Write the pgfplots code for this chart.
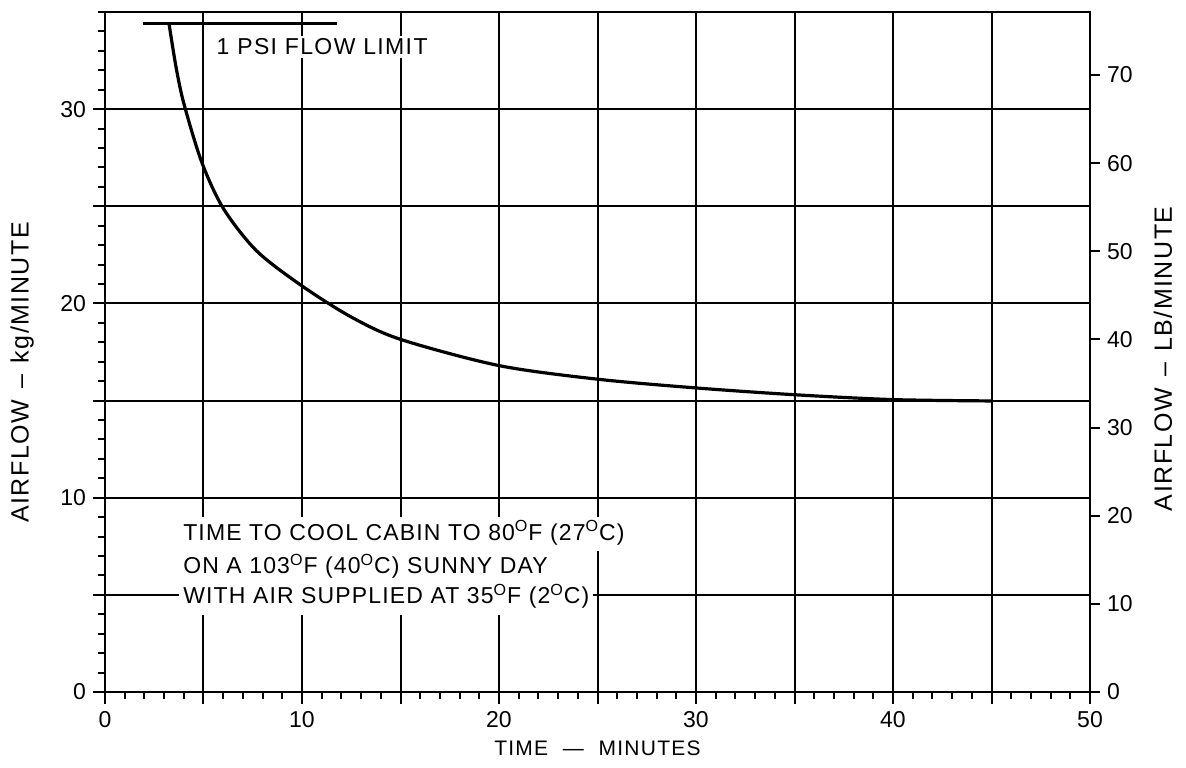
\documentclass[border=0pt]{standalone}
\usepackage{fontspec}
\setmainfont{Liberation Sans}
\newfontfamily\lsA[LetterSpace=6]{Liberation Sans}
\newfontfamily\lsB[LetterSpace=5]{Liberation Sans}
\usepackage{pgfplots}
\pgfplotsset{compat=1.18}

\begin{document}
\begin{tikzpicture}
\pgfplotsset{
  every axis/.append style={
    scale only axis, width=492.5pt, height=340pt,
    xmin=0, xmax=50,
    /pgf/number format/assume math mode=true,
    tick label style={font=\fontsize{11.5}{13}\selectfont},
    axis line style={line width=1.3pt},
    every tick/.style={black, line width=1pt},
    tick align=outside,
  }
}
\begin{axis}[
  ymin=0, ymax=35,
  xtick={0,5,...,50}, xticklabels={0,,10,,20,,30,,40,,50},
  ytick={0,5,...,30}, yticklabels={0,,10,,20,,30},
  minor xtick={0,1,...,50}, minor ytick={0,1,...,35},
  xtick pos=bottom, ytick pos=left,
  major tick length=6pt, minor tick length=3.5pt,
  grid=major, major grid style={black, line width=1pt},
  xlabel={\lsA\fontsize{10.5}{12}\selectfont TIME\hspace{0.7em}—\hspace{0.7em}MINUTES},
  xlabel style={at={(axis description cs:0.5,0)}, anchor=center, yshift=-28pt},
  ylabel={\lsA\fontsize{12.5}{14}\selectfont AIRFLOW\hspace{0.45em}–\hspace{0.45em}kg/MINUTE},
  ylabel style={at={(axis description cs:-0.084,0.47)}, anchor=center},
]
\addplot[black, line width=1.6pt, smooth] coordinates {
  (3.25,34.4) (3.6,32.2) (4.0,30.3) (4.9,27.3) (6.0,24.9) (7.7,22.7)
  (10,20.9) (12.5,19.3) (15,18.15) (20,16.8) (25,16.1) (30,15.65)
  (35,15.3) (40,15.05) (45,14.98)
};
\addplot[black, line width=1.4pt] coordinates {(1.93,34.4) (11.8,34.4)};
\node[fill=white, inner sep=1.5pt, anchor=west, font=\lsA\fontsize{11.5}{13}\selectfont]
  at (axis cs:5.5,33.2) {1 PSI FLOW LIMIT};
\begin{scope}[every node/.style={fill=white, anchor=west, inner xsep=2pt, inner ysep=3pt,
    text height=8.5pt, text depth=2.5pt, font=\lsB\fontsize{11.5}{13}\selectfont}]
\node at (axis cs:3.75,8.13) {TIME TO COOL CABIN TO 80\textsuperscript{O}F (27\textsuperscript{O}C)};
\node at (axis cs:3.75,6.39) {ON A 103\textsuperscript{O}F (40\textsuperscript{O}C) SUNNY DAY};
\node at (axis cs:3.75,4.85) {WITH AIR SUPPLIED AT 35\textsuperscript{O}F (2\textsuperscript{O}C)};
\end{scope}
\coordinate (bl) at (rel axis cs:0,0);
\coordinate (tr) at (rel axis cs:1,1);
\end{axis}
\begin{axis}[
  axis x line=none, axis y line*=right,
  ymin=0, ymax=77.16,
  ytick={0,10,...,70}, minor ytick={},
  major tick length=5pt,
  ylabel={\lsA\fontsize{12.5}{14}\selectfont AIRFLOW\hspace{0.45em}–\hspace{0.45em}LB/MINUTE},
  ylabel style={at={(axis description cs:1.074,0.49)}, anchor=center},
]
\end{axis}
\pgfresetboundingbox
\path[use as bounding box] ([shift={(-52.5pt,-38pt)}]bl) rectangle ([shift={(48pt,6pt)}]tr);
\end{tikzpicture}
\end{document}
